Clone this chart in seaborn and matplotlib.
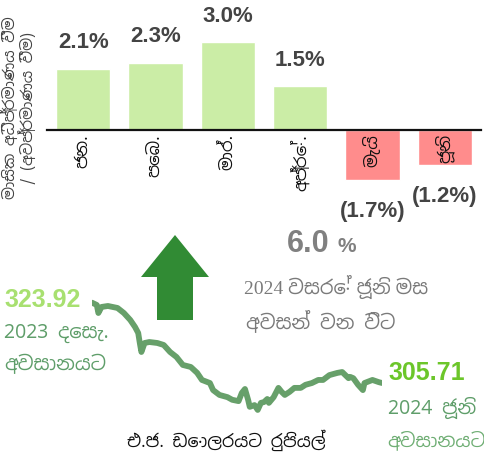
import pandas as pd
import seaborn as sns
import matplotlib
matplotlib.use("Agg")
import matplotlib.pyplot as plt
from matplotlib.patches import Polygon

# monthly appreciation / (depreciation) of the rupee, Jan - Jun 2024
months = ["ජන.", "පෙබ.", "මාර්.", "අප්‍රේ.", "මැයි", "ජූනි"]
monthly_change = [2.1, 2.3, 3.0, 1.5, -1.7, -1.2]

# LKR per USD, end Dec 2023 -> end Jun 2024 (days counted from 2023-12-29)
rate_days = [0, 3, 4, 6, 10, 16, 20, 24, 27, 29, 30, 31, 33, 36, 41, 45, 49,
             53, 57, 62, 66, 69, 74, 76, 80, 85, 88, 92, 94, 96, 98, 99, 102,
             104, 106, 108, 110, 111, 114, 117, 119, 121, 124, 127, 131, 134,
             138, 142, 145, 149, 154, 157, 159, 161, 162, 164, 167, 170, 171,
             176, 180, 182]
rate_values = [323.92, 323.40, 321.58, 322.95, 323.17, 322.72, 321.58, 320.00,
               318.41, 317.05, 314.78, 312.74, 314.78, 315.00, 314.78, 314.33,
               312.74, 311.61, 309.80, 309.34, 308.00, 306.40, 305.70, 304.10,
               303.00, 302.50, 301.90, 301.60, 303.45, 304.35, 301.86, 300.30,
               300.70, 299.60, 301.20, 301.40, 302.08, 301.20, 302.50, 304.60,
               303.70, 303.00, 303.70, 304.60, 304.60, 305.30, 305.70, 306.40,
               306.40, 307.50, 308.00, 308.20, 307.50, 306.80, 307.10, 306.80,
               305.30, 304.10, 305.70, 306.40, 305.90, 305.71]

total_change = "6.0"

sns.set_theme(style="white")
sinhala = ["Noto Sans Sinhala", "Noto Sans Sinhala UI", "Liberation Sans", "DejaVu Sans"]
latin = ["Liberation Sans", "DejaVu Sans"]
plt.rcParams["font.family"] = sinhala

W, H = 484, 459
fig = plt.figure(figsize=(W / 100, H / 100), dpi=100)


def px(x, y):
    return x / W, 1 - y / H


# ---- top: monthly bars ----
ax = fig.add_axes([47 / W, 1 - 230 / H, 434 / W, 230 / H])
bar_colors = ["#cbeda6" if v > 0 else "#ff8c8c" for v in monthly_change]
sns.barplot(x=months, y=monthly_change, hue=months, palette=bar_colors,
            legend=False, width=0.75, saturation=1, ax=ax)
ax.set_axisbelow(False)
ax.set_ylim(-3.41, 4.44)
ax.set_xlim(-0.5, 5.5)
for s in ax.spines.values():
    s.set_visible(False)
ax.spines["bottom"].set_visible(True)
ax.spines["bottom"].set_position(("data", 0))
ax.spines["bottom"].set_color("#111111")
ax.spines["bottom"].set_linewidth(1.6)
ax.set_yticks([])
ax.set_ylabel("")
ax.tick_params(axis="x", length=0, pad=3, labelsize=12, labelcolor="#111111")
plt.setp(ax.get_xticklabels(), rotation=90)

for cont, v in zip(ax.containers, monthly_change):
    lab = f"{v:.1f}%" if v > 0 else f"({abs(v):.1f}%)"
    ax.bar_label(cont, labels=[lab], padding=11 if v > 0 else 15, fontsize=16,
                 fontweight="bold", color="#444444", family=latin)

fig.text(*px(19, 108), "මාසික අධිප්‍රමාණය වීම\n/ (අවප්‍රමාණය වීම)", fontsize=11,
         color="#444444", rotation=90, ha="center", va="center",
         multialignment="center", linespacing=0.95)

# ---- bottom: exchange rate line ----
dates = pd.Timestamp("2023-12-29") + pd.to_timedelta(rate_days, unit="D")
ax2 = fig.add_axes([92 / W, 1 - 417 / H, 290 / W, 123.5 / H])
sns.lineplot(x=dates, y=rate_values, ax=ax2, color="#67a06a", linewidth=4.2,
             solid_capstyle="round", solid_joinstyle="round")
ax2.set_ylim(298, 326)
ax2.set_xlim(dates[0], dates[-1])
ax2.axis("off")

# big up arrow
arrow = Polygon([px(175, 235), px(209, 277), px(193, 277), px(193, 320),
                 px(157, 320), px(157, 277), px(141, 277)],
                closed=True, transform=fig.transFigure, color="#318b34", lw=0)
fig.patches.append(arrow)

# annotations
fig.text(*px(4, 300), "323.92", fontsize=18, fontweight="bold", color="#a8e070",
         family=latin, ha="left", va="center")
fig.text(*px(4, 333), "2023 දෙසැ.", fontsize=14, color="#5f9e6a", ha="left", va="center")
fig.text(*px(4, 365), "අවසානයට", fontsize=14, color="#5f9e6a", ha="left", va="center")

fig.text(*px(388, 373), "305.71", fontsize=18, fontweight="bold", color="#6cc62a",
         family=latin, ha="left", va="center")
fig.text(*px(388, 408), "2024 ජූනි", fontsize=14, color="#5f9e6a", ha="left", va="center")
fig.text(*px(387, 440), "අවසානයට", fontsize=13.5, color="#6fae74", ha="left", va="center")

fig.text(*px(330, 244), total_change, fontsize=22, fontweight="bold", color="#808080",
         family=latin, ha="right", va="center")
fig.text(*px(338, 246), "%", fontsize=15, fontweight="bold", color="#808080",
         family=latin, ha="left", va="center")
fig.text(*px(336, 287), "2024 වසරේ ජූනි මස", fontsize=14, color="#7a7a7a",
         family=["Liberation Serif"] + sinhala, ha="center", va="center")
fig.text(*px(321, 322), "අවසන් වන විට", fontsize=14, color="#7a7a7a",
         ha="center", va="center")

fig.text(*px(226, 440), "එ.ජ. ඩොලරයට රුපියල්", fontsize=12.5, color="#111111",
         ha="center", va="center")

fig.savefig("out.png", dpi=100)
